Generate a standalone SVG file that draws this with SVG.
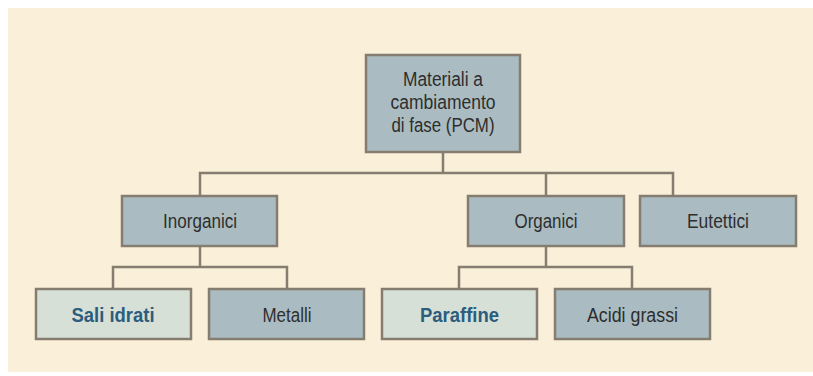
<svg xmlns="http://www.w3.org/2000/svg" width="813" height="376" viewBox="0 0 813 376">
<style>
.box{fill:#aabcc1;stroke:#857d70;stroke-width:2.5}
.lt{fill:#d6e0d6;stroke:#857d70;stroke-width:2.5}
.t{font-family:"Liberation Sans",Arial,sans-serif;font-size:20px;fill:#2e2e2e;text-anchor:middle}
.b{font-family:"Liberation Sans",Arial,sans-serif;font-size:20px;font-weight:bold;fill:#2b5d7e;text-anchor:middle}
.c{fill:none;stroke:#857d70;stroke-width:2.5}
</style>
<rect x="0" y="0" width="813" height="376" fill="#ffffff"/>
<rect x="8" y="8" width="805" height="364" fill="#faefd9"/>
<g id="connectors">
<path class="c" d="M443 152V173M200 196V173H673V196M546 173V196"/>
<path class="c" d="M200 246V267M113 289V267H287V289"/>
<path class="c" d="M546 246V267M459 289V267H632V289"/>
</g>
<g id="root">
<rect class="box" x="366" y="55" width="154" height="97"/>
<text class="t" x="443" y="86" textLength="80" lengthAdjust="spacingAndGlyphs">Materiali a</text>
<text class="t" x="443" y="109" textLength="105" lengthAdjust="spacingAndGlyphs">cambiamento</text>
<text class="t" x="443" y="131.5" textLength="103" lengthAdjust="spacingAndGlyphs">di fase (PCM)</text>
</g>
<g id="inorganici">
<rect class="box" x="122" y="196" width="155" height="50"/>
<text class="t" x="200" y="228" textLength="74" lengthAdjust="spacingAndGlyphs">Inorganici</text>
</g>
<g id="organici">
<rect class="box" x="468" y="196" width="156" height="50"/>
<text class="t" x="546" y="228" textLength="63" lengthAdjust="spacingAndGlyphs">Organici</text>
</g>
<g id="eutettici">
<rect class="box" x="640" y="196" width="156" height="50"/>
<text class="t" x="718" y="228" textLength="62" lengthAdjust="spacingAndGlyphs">Eutettici</text>
</g>
<g id="sali">
<rect class="lt" x="36" y="289" width="155" height="50"/>
<text class="b" x="113" y="321.5" textLength="83" lengthAdjust="spacingAndGlyphs">Sali idrati</text>
</g>
<g id="metalli">
<rect class="box" x="209" y="289" width="155" height="50"/>
<text class="t" x="287" y="321.5" textLength="49" lengthAdjust="spacingAndGlyphs">Metalli</text>
</g>
<g id="paraffine">
<rect class="lt" x="382" y="289" width="155" height="50"/>
<text class="b" x="459.5" y="321.5" textLength="79" lengthAdjust="spacingAndGlyphs">Paraffine</text>
</g>
<g id="acidi">
<rect class="box" x="555" y="289" width="155" height="50"/>
<text class="t" x="632.5" y="321.5" textLength="91" lengthAdjust="spacingAndGlyphs">Acidi grassi</text>
</g>
</svg>
